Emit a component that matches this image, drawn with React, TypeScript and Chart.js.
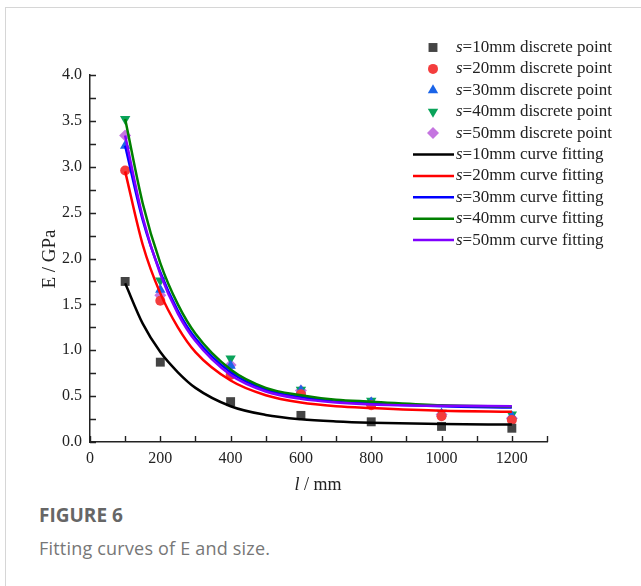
import React, { useEffect, useRef } from 'react';
import { Chart, registerables } from 'chart.js';

Chart.register(...registerables);

// ---- data ----
const pointX = [100, 200, 400, 600, 800, 1000, 1200];
const pts10 = [1.75, 0.87, 0.44, 0.29, 0.22, 0.17, 0.15];
const pts20 = [2.96, 1.54, 0.73, 0.52, 0.40, 0.28, 0.24];
const pts30 = [3.23, 1.66, 0.83, 0.56, 0.43, 0.31, 0.28];
const pts40 = [3.52, 1.76, 0.91, 0.57, 0.45, 0.32, 0.30];
const pts50 = [3.34, 1.60, 0.84, 0.56, 0.43, 0.30, 0.26];

const curveX = [100, 150, 200, 250, 300, 400, 500, 600, 700, 800, 1000, 1200];
const fit10 = [1.73, 1.29, 0.98, 0.76, 0.59, 0.39, 0.295, 0.248, 0.224, 0.21, 0.195, 0.19];
const fit20 = [2.95, 2.15, 1.62, 1.25, 0.98, 0.67, 0.51, 0.43, 0.39, 0.37, 0.34, 0.33];
const fit30 = [3.23, 2.42, 1.85, 1.43, 1.13, 0.76, 0.57, 0.49, 0.44, 0.42, 0.39, 0.375];
const fit40 = [3.52, 2.60, 1.95, 1.50, 1.18, 0.79, 0.59, 0.51, 0.46, 0.44, 0.40, 0.385];
const fit50 = [3.34, 2.45, 1.83, 1.40, 1.10, 0.73, 0.55, 0.47, 0.43, 0.41, 0.395, 0.39];

const pointLabels = [
  's=10mm discrete point',
  's=20mm discrete point',
  's=30mm discrete point',
  's=40mm discrete point',
  's=50mm discrete point',
];
const curveLabels = [
  's=10mm curve fitting',
  's=20mm curve fitting',
  's=30mm curve fitting',
  's=40mm curve fitting',
  's=50mm curve fitting',
];

const xTitleItalic = 'l';
const xTitleRest = ' / mm';
const yTitle = 'E / GPa';
const figureLabel = 'FIGURE 6';
const figureCaption = 'Fitting curves of E and size.';

// ---- styles ----
const SERIF = '"Liberation Serif", "Times New Roman", serif';
const pointColors = ['#444444', '#f43d3d', '#1a64e8', '#0aa35a', '#c575e0'];
const pointStyles = ['rect', 'circle', 'triangle', 'triangle', 'rectRot'];
const pointRotations = [0, 0, 0, 180, 0];
const pointRadii = [6.3, 5, 6, 6, 6];
const curveColors = ['#000000', '#ff0000', '#0000ff', '#008000', '#8000ff'];

const pointSets = [pts10, pts20, pts30, pts40, pts50];
const curveSets = [fit10, fit20, fit30, fit40, fit50];

function markerPath(ctx: CanvasRenderingContext2D, style: string, rot: number, r: number, x: number, y: number) {
  ctx.beginPath();
  if (style === 'circle') {
    ctx.arc(x, y, r, 0, Math.PI * 2);
  } else if (style === 'rect') {
    const s = r * Math.SQRT1_2;
    ctx.rect(x - s, y - s, 2 * s, 2 * s);
  } else if (style === 'rectRot') {
    ctx.moveTo(x, y - r);
    ctx.lineTo(x + r, y);
    ctx.lineTo(x, y + r);
    ctx.lineTo(x - r, y);
  } else if (style === 'triangle') {
    const a = (rot * Math.PI) / 180;
    for (let k = 0; k < 3; k++) {
      const ang = a - Math.PI / 2 + (k * 2 * Math.PI) / 3;
      const px = x + Math.cos(ang) * r;
      const py = y + Math.sin(ang) * r;
      if (k === 0) ctx.moveTo(px, py);
      else ctx.lineTo(px, py);
    }
  }
  ctx.closePath();
}

const inwardTicks = {
  id: 'inwardTicks',
  afterDatasetsDraw(chart: any) {
    const { ctx, chartArea } = chart;
    const xs = chart.scales.x;
    const ys = chart.scales.y;
    ctx.save();
    ctx.strokeStyle = '#222';
    ctx.lineWidth = 1.4;
    ctx.beginPath();
    xs.ticks.forEach((t: any) => {
      const px = Math.round(xs.getPixelForValue(t.value)) + 0.5;
      ctx.moveTo(px, chartArea.bottom);
      ctx.lineTo(px, chartArea.bottom - 6);
    });
    ys.ticks.forEach((t: any) => {
      const py = Math.round(ys.getPixelForValue(t.value)) + 0.5;
      ctx.moveTo(chartArea.left, py);
      ctx.lineTo(chartArea.left + 6, py);
    });
    ctx.stroke();

    ctx.fillStyle = '#222';
    ctx.textBaseline = 'middle';
    ctx.font = `italic 18px ${SERIF}`;
    const wI = ctx.measureText(xTitleItalic).width;
    ctx.font = `18px ${SERIF}`;
    const wR = ctx.measureText(xTitleRest).width;
    const cx = 318;
    const sx = cx - (wI + wR) / 2;
    ctx.textAlign = 'left';
    ctx.font = `italic 18px ${SERIF}`;
    ctx.fillText(xTitleItalic, sx, 485);
    ctx.font = `18px ${SERIF}`;
    ctx.fillText(xTitleRest, sx + wI, 485);
    ctx.save();
    ctx.translate(50, 259);
    ctx.rotate(-Math.PI / 2);
    ctx.textAlign = 'center';
    ctx.font = `19px ${SERIF}`;
    ctx.fillText(yTitle, 0, 0);
    ctx.restore();
    ctx.restore();
  },
};

const customLegend = {
  id: 'customLegend',
  afterDraw(chart: any) {
    const { ctx } = chart;
    const ds = chart.data.datasets;
    const ordered = [...ds.filter((d: any) => d.kind === 'pt'), ...ds.filter((d: any) => d.kind === 'fit')];
    ctx.save();
    ordered.forEach((d: any, i: number) => {
      const y = 47.5 + i * 21.4;
      if (d.kind === 'pt') {
        markerPath(ctx, d.pointStyle, d.pointRotation, d.pointRadius, 433, y);
        ctx.fillStyle = d.backgroundColor;
        ctx.fill();
      } else {
        ctx.strokeStyle = d.borderColor;
        ctx.lineWidth = 2.5;
        ctx.beginPath();
        ctx.moveTo(413, y);
        ctx.lineTo(454, y);
        ctx.stroke();
      }
      const label: string = d.label;
      ctx.fillStyle = '#222';
      ctx.textBaseline = 'middle';
      ctx.textAlign = 'left';
      ctx.font = `italic 17px ${SERIF}`;
      const first = label.charAt(0);
      ctx.fillText(first, 456, y);
      const w = ctx.measureText(first).width;
      ctx.font = `17px ${SERIF}`;
      ctx.fillText(label.slice(1), 456 + w, y);
    });
    ctx.restore();
  },
};

export default function App() {
  const ref = useRef<HTMLCanvasElement | null>(null);

  useEffect(() => {
    if (!ref.current) return;
    const datasets: any[] = [];
    curveSets.forEach((vals, i) => {
      datasets.push({
        kind: 'fit',
        type: 'line',
        label: curveLabels[i],
        data: curveX.map((x, j) => ({ x, y: vals[j] })),
        borderColor: curveColors[i],
        backgroundColor: curveColors[i],
        borderWidth: 2.5,
        pointRadius: 0,
        cubicInterpolationMode: 'monotone',
        fill: false,
        order: 10 - i,
      });
    });
    pointSets.forEach((vals, i) => {
      datasets.push({
        kind: 'pt',
        type: 'scatter',
        label: pointLabels[i],
        data: pointX.map((x, j) => ({ x, y: vals[j] })),
        backgroundColor: pointColors[i],
        borderColor: pointColors[i],
        borderWidth: 0,
        pointStyle: pointStyles[i],
        pointRotation: pointRotations[i],
        pointRadius: pointRadii[i],
        showLine: false,
        order: 20 + i,
      });
    });

    const chart = new Chart(ref.current, {
      type: 'scatter',
      data: { datasets },
      options: {
        animation: false,
        responsive: false,
        devicePixelRatio: 1,
        layout: { padding: { left: 0, top: 75, right: 94, bottom: 0 } },
        plugins: {
          legend: { display: false },
          tooltip: { enabled: false },
        },
        scales: {
          x: {
            type: 'linear',
            min: 0,
            max: 1300,
            afterFit: (s: any) => {
              s.height = 58;
            },
            grid: { display: false, drawTicks: false },
            border: { display: true, color: '#222', width: 1.5 },
            ticks: {
              stepSize: 100,
              autoSkip: false,
              maxRotation: 0,
              padding: 7,
              color: '#222',
              font: { family: SERIF, size: 16 },
              callback: (v: any) => (Math.round(v) % 200 === 0 ? String(v) : ''),
            },
          },
          y: {
            type: 'linear',
            min: 0,
            max: 4,
            afterFit: (s: any) => {
              s.width = 90;
            },
            grid: { display: false, drawTicks: false },
            border: { display: true, color: '#222', width: 1.5 },
            ticks: {
              stepSize: 0.25,
              autoSkip: false,
              padding: 8,
              color: '#222',
              font: { family: SERIF, size: 16 },
              callback: (v: any) =>
                Math.abs(v * 2 - Math.round(v * 2)) < 1e-6 ? Number(v).toFixed(1) : '',
            },
          },
        },
      },
      plugins: [inwardTicks, customLegend],
    } as any);
    return () => chart.destroy();
  }, []);

  return (
    <div
      style={{
        position: 'absolute',
        left: 0,
        top: 0,
        width: 641,
        height: 586,
        overflow: 'hidden',
        background: '#fff',
      }}
    >
      <div
        style={{
          position: 'absolute',
          left: 5,
          top: 7,
          width: 700,
          height: 700,
          borderTop: '1px solid #d6d6d6',
          borderLeft: '1px solid #d6d6d6',
        }}
      />
      <canvas ref={ref} width={641} height={500} style={{ position: 'absolute', left: 0, top: 0 }} />
      <div
        style={{
          position: 'absolute',
          left: 39,
          top: 503,
          fontFamily: '"Open Sans", "Noto Sans", sans-serif',
          fontWeight: 700,
          fontSize: 19,
          color: '#666',
          lineHeight: '24px',
        }}
      >
        {figureLabel}
      </div>
      <div
        style={{
          position: 'absolute',
          left: 39,
          top: 536,
          fontFamily: '"Open Sans", "Noto Sans", sans-serif',
          fontSize: 18,
          letterSpacing: 0.2,
          color: '#777',
          lineHeight: '24px',
        }}
      >
        {figureCaption}
      </div>
    </div>
  );
}
